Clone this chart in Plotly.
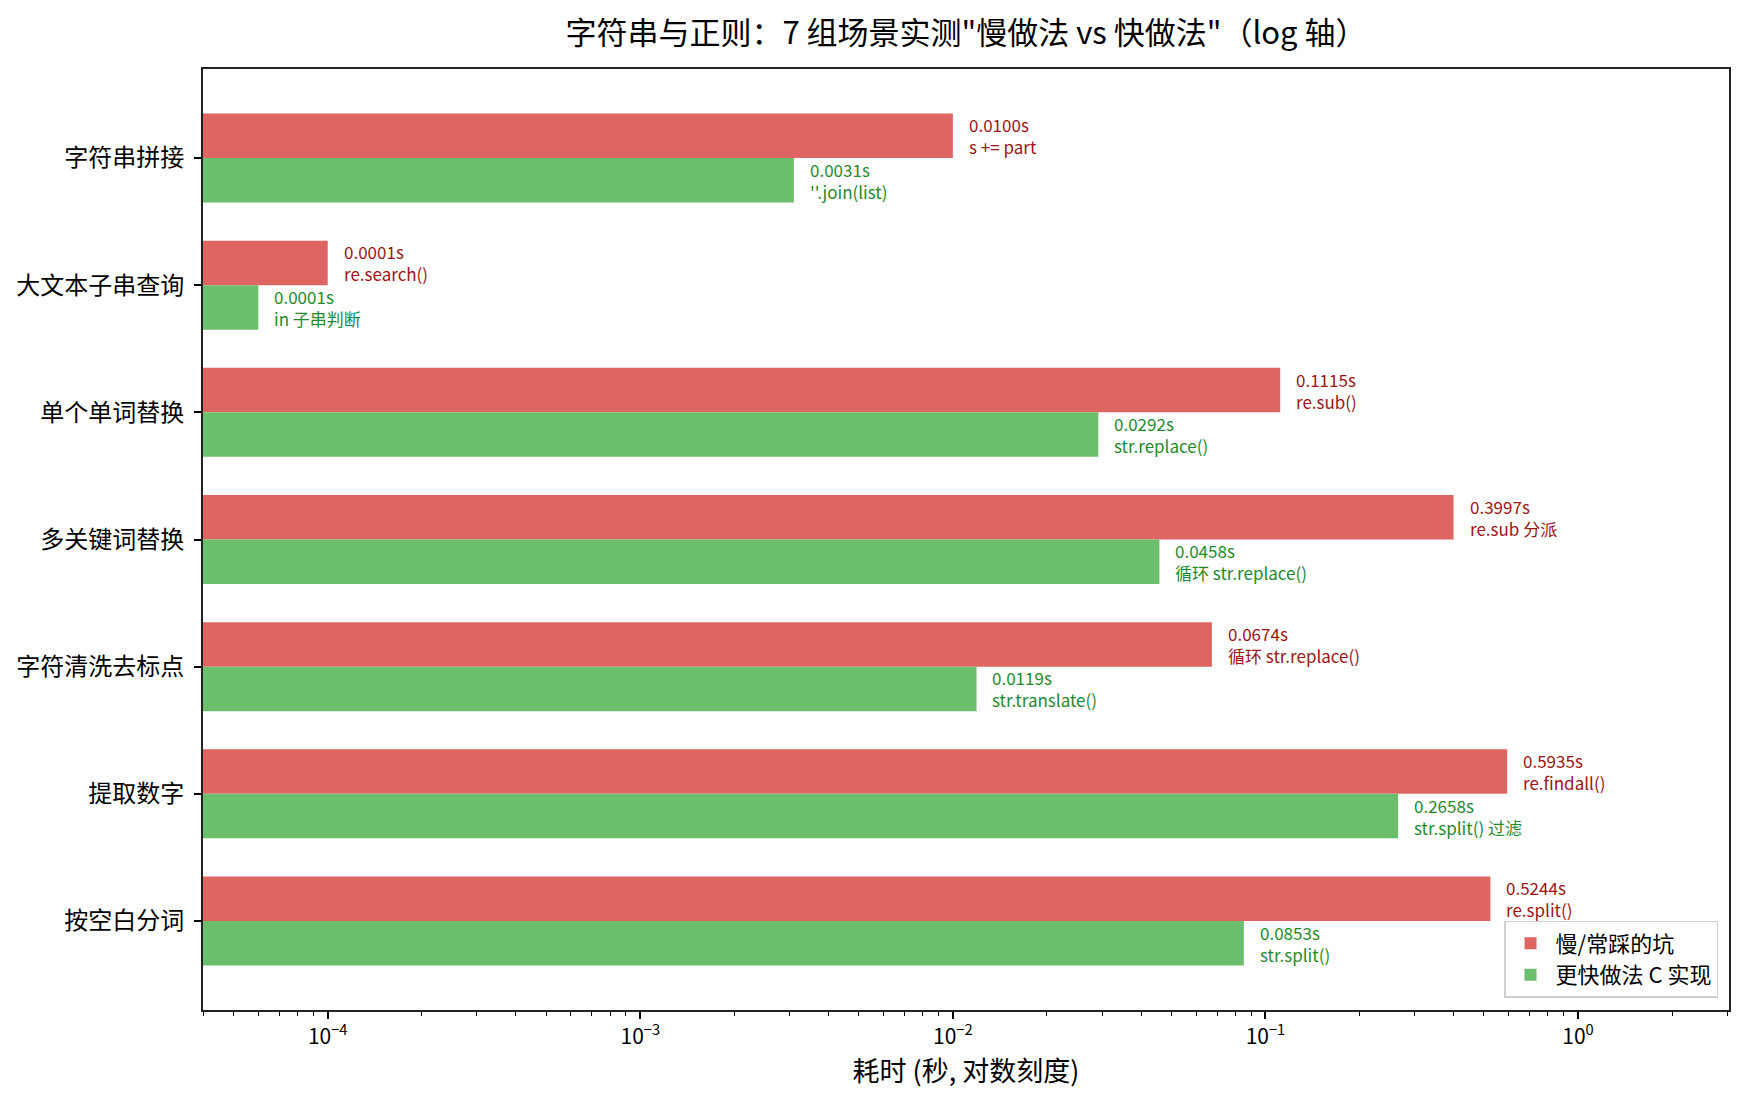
import math
import plotly.graph_objects as go

# 场景与两种做法的耗时（秒）
scenes = ['字符串拼接', '大文本子串查询', '单个单词替换', '多关键词替换',
          '字符清洗去标点', '提取数字', '按空白分词']
slow_times = [0.0100, 0.0001, 0.1115, 0.3997, 0.0674, 0.5935, 0.5244]
fast_times = [0.0031, 0.00006, 0.0292, 0.0458, 0.0119, 0.2658, 0.0853]
slow_methods = ['s += part', 're.search()', 're.sub()', 're.sub 分派',
                '循环 str.replace()', 're.findall()', 're.split()']
fast_methods = ["''.join(list)", 'in 子串判断', 'str.replace()', '循环 str.replace()',
                'str.translate()', 'str.split() 过滤', 'str.split()']
tick_vals = [1e-4, 1e-3, 1e-2, 1e-1, 1]
tick_text = ['10<sup>−4</sup>', '10<sup>−3</sup>', '10<sup>−2</sup>', '10<sup>−1</sup>', '10<sup>0</sup>']

FONT = 'Noto Sans CJK SC'
BAR_H = 0.35

fig = go.Figure()
fig.add_trace(go.Bar(
    y=scenes, x=slow_times, orientation='h', name='慢/常踩的坑',
    width=BAR_H, offset=-BAR_H, marker_color='#df6562', marker_line_width=0
))
fig.add_trace(go.Bar(
    y=scenes, x=fast_times, orientation='h', name='更快做法 C 实现',
    width=BAR_H, offset=0, marker_color='#6bbe6c', marker_line_width=0
))

# 每根柱子右侧的数值 + 方法说明
for i in range(len(scenes)):
    for val, meth, color, dy in [(slow_times[i], slow_methods[i], '#9c1414', -BAR_H / 2),
                                 (fast_times[i], fast_methods[i], '#1f8a2c', BAR_H / 2)]:
        fig.add_annotation(
            x=math.log10(val), y=i + dy, xref='x', yref='y',
            text=f'{val:.4f}s<br>{meth}', showarrow=False,
            xanchor='left', yanchor='middle', align='left', xshift=14,
            font=dict(family=FONT, size=17, color=color)
        )

minor_vals = [m * 10 ** e for e in range(-5, 1) for m in range(2, 10)]

# 页面 body 自带 8px 边距，所以整体尺寸和边距各减 8
fig.update_layout(
    width=1736, height=1092,
    margin=dict(l=195, r=15, t=61, b=90, autoexpand=False),
    paper_bgcolor='white', plot_bgcolor='white',
    font=dict(family=FONT, color='black'),
    barmode='overlay',
    title=dict(text='字符串与正则：7 组场景实测"慢做法 vs 快做法"（log 轴）',
               x=0.5, xref='paper', xanchor='center', y=0.977, yanchor='middle',
               font=dict(size=31, family=FONT, color='black')),
    xaxis=dict(type='log', range=[-4.399, 0.483],
               tickvals=tick_vals, ticktext=tick_text,
               ticks='outside', ticklen=7, tickwidth=1.5, tickcolor='black',
               minor=dict(tickvals=minor_vals, ticks='outside', ticklen=4,
                          tickwidth=1, tickcolor='black', showgrid=False),
               showgrid=False, zeroline=False, automargin=False,
               showline=True, linecolor='#222', linewidth=2, mirror=True,
               tickfont=dict(size=21, family=FONT),
               title=dict(text='耗时 (秒, 对数刻度)', standoff=10,
                          font=dict(size=27, family=FONT))),
    yaxis=dict(type='category', range=[6.7, -0.7],
               ticks='outside', ticklen=7, tickwidth=1.5, tickcolor='black',
               ticklabelstandoff=5, automargin=False,
               showgrid=False, zeroline=False,
               showline=True, linecolor='#222', linewidth=2, mirror=True,
               tickfont=dict(size=24, family=FONT)),
    legend=dict(x=0.9928, y=0.0128, xanchor='right', yanchor='bottom',
                bgcolor='rgba(255,255,255,0.85)', bordercolor='#d0d0d0', borderwidth=1.5,
                font=dict(size=22, family=FONT), traceorder='normal',
                itemwidth=40)
)

fig.write_html('out.html')
